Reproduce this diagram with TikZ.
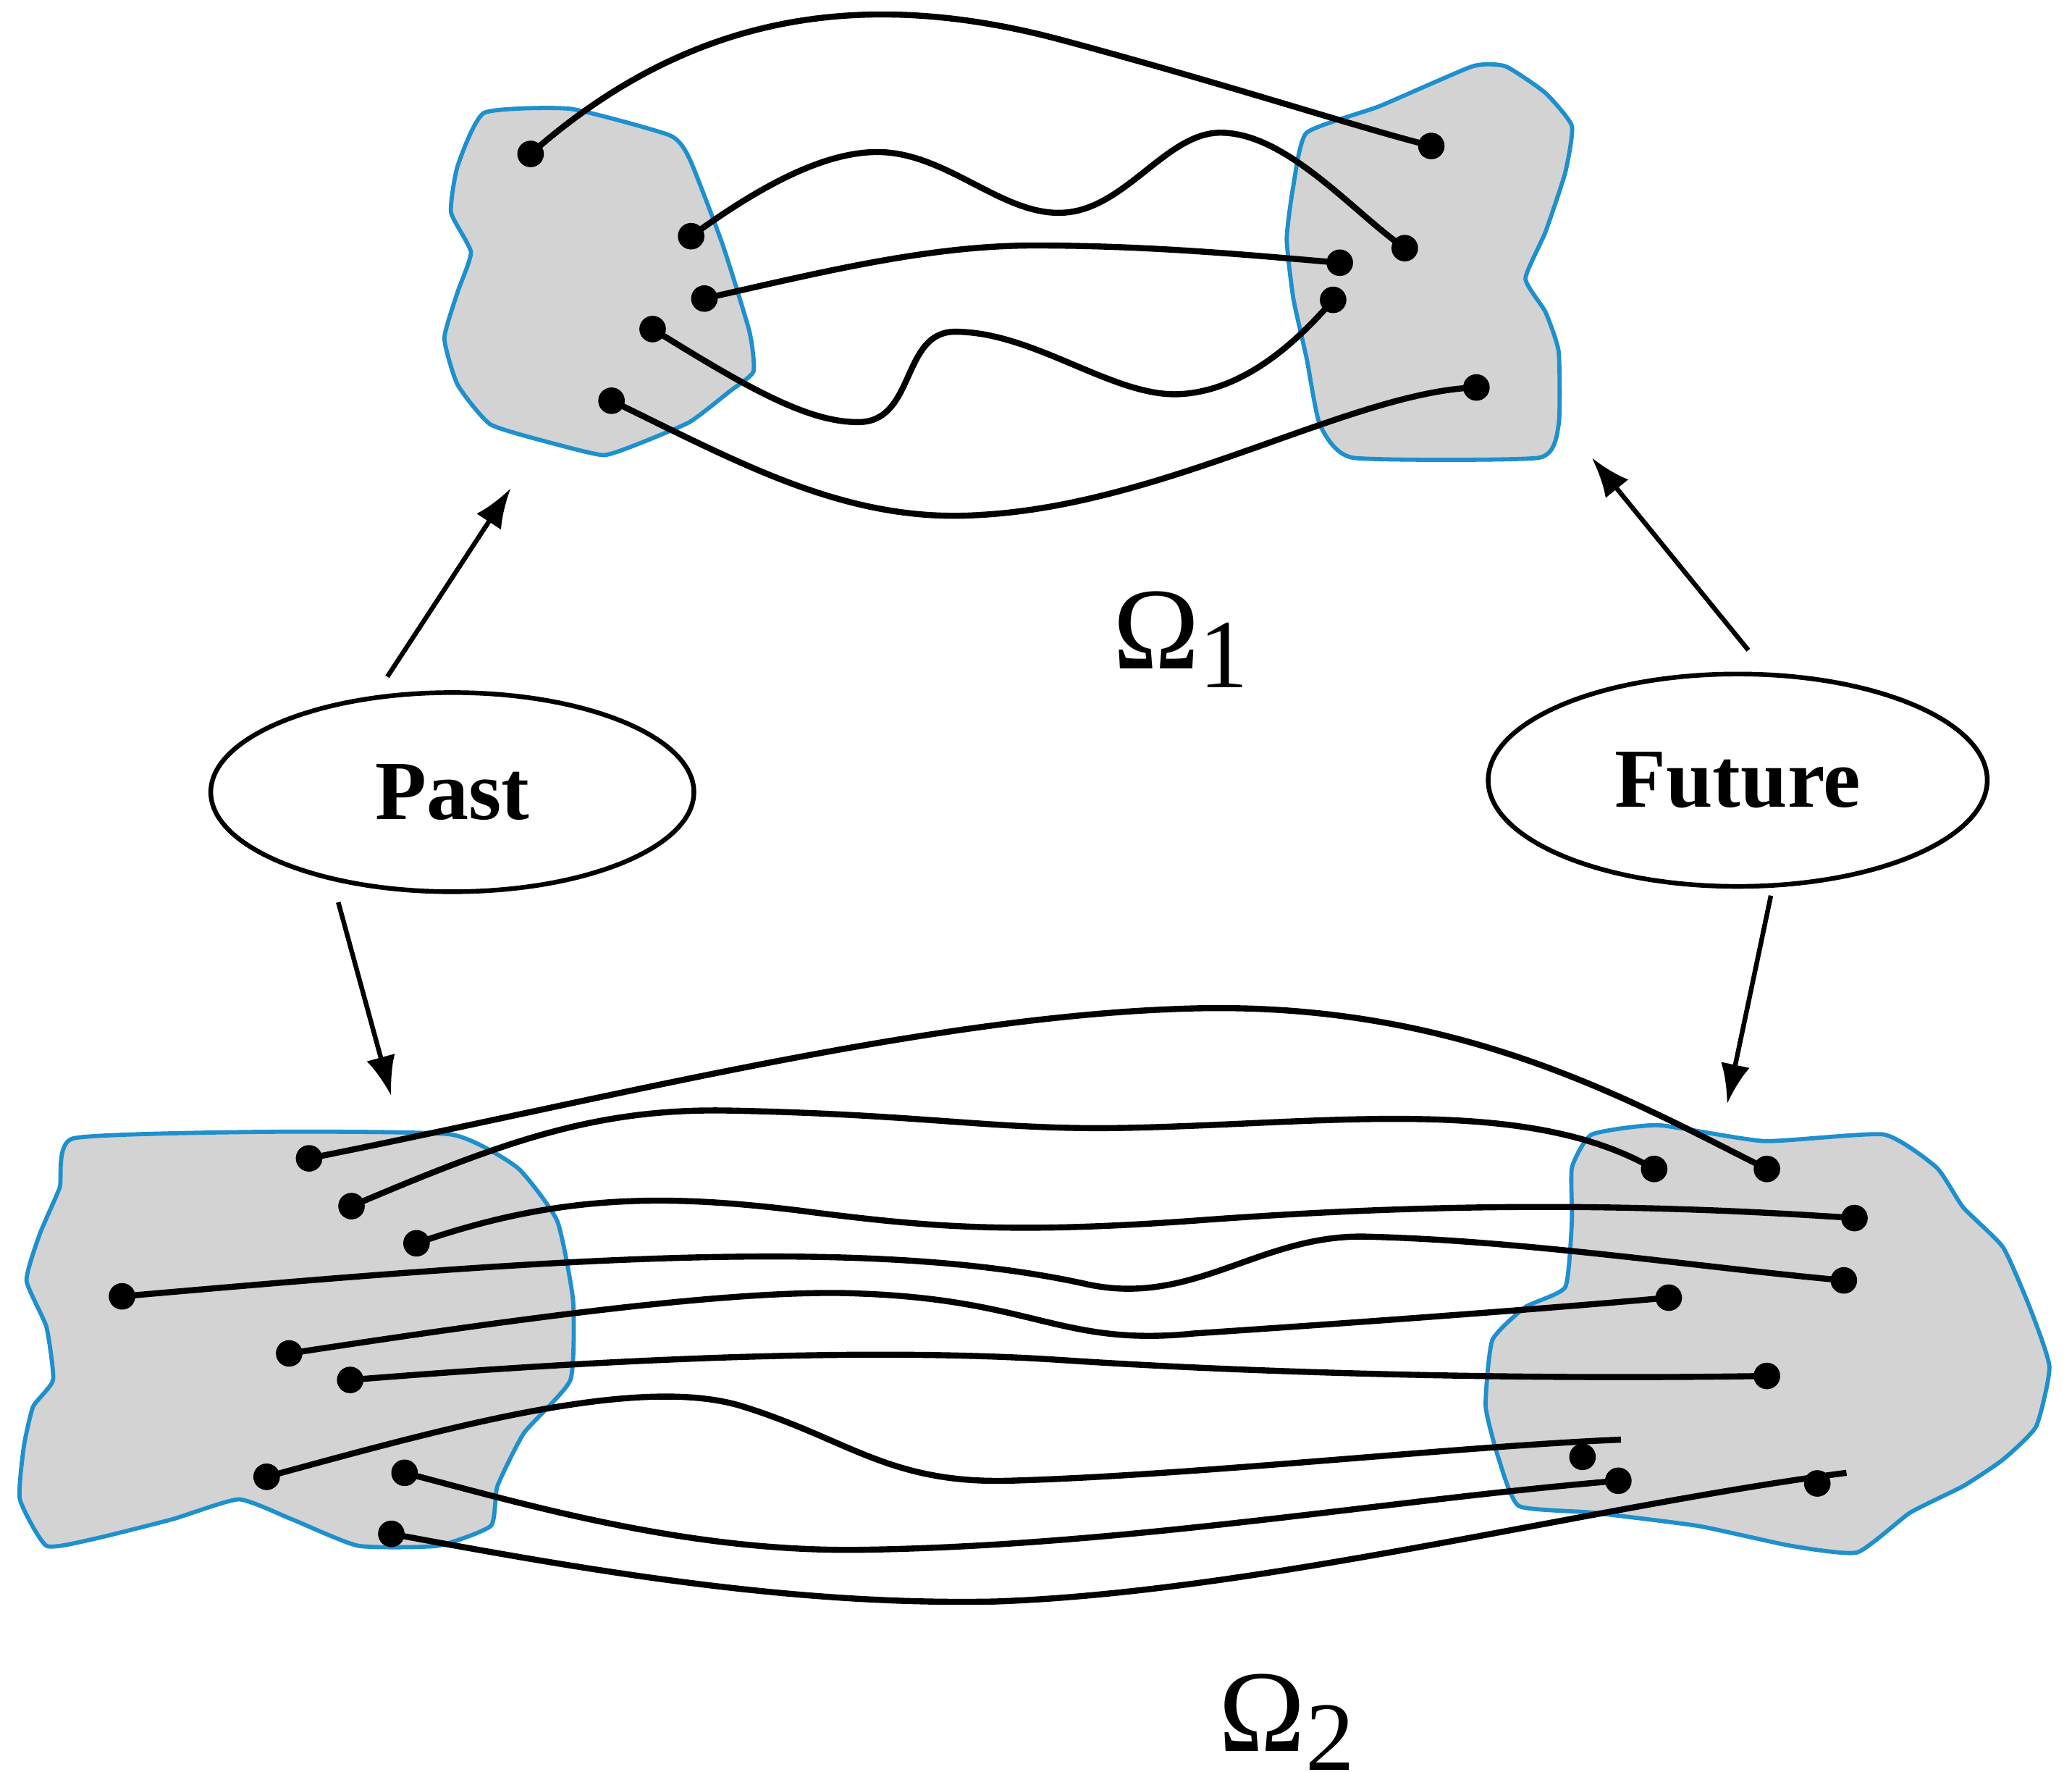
\documentclass[tikz,border=0pt]{standalone}
\usepackage{fontspec}
\setmainfont{Liberation Serif}
\usetikzlibrary{arrows.meta}
\definecolor{blobgray}{RGB}{211,211,211}
\definecolor{blobblue}{RGB}{30,144,205}
\tikzset{
  blob/.style={fill=blobgray, draw=blobblue, line width=0.9pt},
  dot/.style={circle, fill=black, inner sep=0pt, minimum size=0.2cm},
  link/.style={line width=1.3pt},
  pointer/.style={line width=1pt, -{Latex[length=0.3cm,width=0.22cm]}},
  era/.style={ellipse, draw, line width=1pt, font=\bfseries\fontsize{18}{18}\selectfont},
  region/.style={inner sep=0pt, font=\fontsize{25}{25}\selectfont},
}
\newcommand{\omegalabel}[1]{Ω\raisebox{-0.35ex}{\fontsize{21}{21}\selectfont #1}}
\usetikzlibrary{shapes.geometric}
\begin{document}
\begin{tikzpicture}[x=0.01cm,y=-0.01cm]
            \useasboundingbox (0,0) rectangle (1562,1335);
            % regions
            \draw [blob] plot [smooth cycle, tension=0.3] coordinates {(365,85) (430,82) (505,102) (520,120) (545,185) (565,250) (568,280) (550,295) (520,318) (480,335) (455,343) (420,335) (370,320) (345,290) (335,255) (345,220) (355,190) (340,160) (345,125)};
            \draw [blob] plot [smooth cycle, tension=0.3] coordinates {(985,100) (1040,80) (1110,50) (1135,50) (1165,70) (1185,95) (1180,130) (1165,175) (1150,210) (1165,235) (1175,265) (1175,320) (1160,345) (1020,345) (995,320) (985,270) (975,225) (970,180) (975,140)};
            \draw [blob] plot [smooth cycle, tension=0.3] coordinates {(55,858) (200,853) (340,855) (390,880) (420,920) (432,980) (430,1040) (395,1080) (375,1120) (370,1150) (330,1165) (270,1165) (220,1145) (180,1130) (130,1145) (70,1160) (35,1165) (15,1130) (18,1090) (25,1060) (40,1040) (35,1000) (20,965) (30,930) (45,895)};
            \draw [blob] plot [smooth cycle, tension=0.3] coordinates {(1200,855) (1250,848) (1330,860) (1420,855) (1460,880) (1480,910) (1510,940) (1530,985) (1545,1030) (1535,1075) (1510,1100) (1480,1120) (1440,1140) (1400,1170) (1350,1165) (1280,1150) (1200,1140) (1145,1135) (1130,1100) (1120,1060) (1125,1010) (1150,985) (1180,970) (1185,920) (1185,880)};
            % points
            \foreach \n/\p in {a1/{400,116}, a2/{521,178}, a3/{531,225}, a4/{492,248}, a5/{461,302},
                               b1/{1079,110}, b2/{1059,187}, b3/{1010,198}, b4/{1005,226}, b5/{1113,292},
                               l1/{233,873}, l2/{265,909}, l3/{314,937}, l4/{92,977}, l5/{218,1020}, l6/{264,1040}, l7/{201,1113}, l8/{305,1110}, l9/{295,1156},
                               r1/{1247,881}, r2/{1332,881}, r3/{1398,918}, r4/{1390,965}, r5/{1258,978}, r6/{1332,1037}, r7/{1193,1098}, r8/{1220,1116}, r9/{1370,1118}}
                \node [dot] (\n) at (\p) {};
            \coordinate (e7) at (1222,1085);
            \coordinate (e9) at (1392,1110);
            % top links
            \draw [link] (a1.center) .. controls (520,10) and (650,-10) .. (800,30) .. controls (930,65) and (1020,95) .. (b1.center);
            \draw [link] (a2.center) .. controls (560,150) and (620,110) .. (670,115) .. controls (720,120) and (760,165) .. (805,160) .. controls (850,155) and (880,100) .. (920,100) .. controls (970,100) and (1020,160) .. (b2.center);
            \draw [link] (a3.center) .. controls (620,205) and (700,185) .. (780,185) .. controls (870,185) and (950,193) .. (b3.center);
            \draw [link] (a4.center) .. controls (560,290) and (610,320) .. (650,318) .. controls (690,315) and (680,250) .. (720,250) .. controls (780,250) and (840,300) .. (890,297) .. controls (940,294) and (980,255) .. (b4.center);
            \draw [link] (a5.center) .. controls (560,350) and (640,395) .. (740,388) .. controls (880,380) and (1020,295) .. (b5.center);
            % bottom links
            \draw [link] (l1.center) .. controls (450,830) and (700,765) .. (900,760) .. controls (1100,755) and (1230,830) .. (r2.center);
            \draw [link] (l2.center) .. controls (380,860) and (450,835) .. (550,837) .. controls (700,840) and (750,852) .. (850,850) .. controls (1000,847) and (1150,825) .. (r1.center);
            \draw [link] (l3.center) .. controls (420,900) and (500,900) .. (600,912) .. controls (700,925) and (760,930) .. (900,920) .. controls (1100,905) and (1250,908) .. (r3.center);
            \draw [link] (l4.center) .. controls (400,950) and (650,930) .. (820,968) .. controls (900,985) and (950,930) .. (1030,932) .. controls (1150,935) and (1280,955) .. (r4.center);
            \draw [link] (l5.center) .. controls (350,1000) and (550,970) .. (650,975) .. controls (780,980) and (800,1015) .. (900,1005) .. controls (1050,995) and (1180,985) .. (r5.center);
            \draw [link] (l6.center) .. controls (450,1025) and (650,1015) .. (800,1025) .. controls (950,1035) and (1150,1040) .. (r6.center);
            \draw [link] (l7.center) .. controls (330,1078) and (480,1035) .. (560,1060) .. controls (640,1085) and (670,1118) .. (760,1116) .. controls (900,1112) and (1100,1090) .. (e7);
            \draw [link] (l8.center) .. controls (400,1135) and (520,1170) .. (650,1168) .. controls (850,1165) and (1050,1130) .. (r8.center);
            \draw [link] (l9.center) .. controls (450,1185) and (600,1210) .. (750,1207) .. controls (950,1200) and (1200,1135) .. (e9);
            % eras
            \node [era, minimum width=3.64cm, minimum height=1.5cm] (past) at (341,597) {Past};
            \node [era, minimum width=3.76cm, minimum height=1.6cm] (future) at (1310,588) {Future};
            \coordinate (pastup) at (292,510);
            \coordinate (pastdown) at (255,680);
            \coordinate (futup) at (1318,490);
            \coordinate (futdown) at (1335,675);
            \draw [pointer] (pastup) -- (385,368);
            \draw [pointer] (pastdown) -- (295,826);
            \draw [pointer] (futup) -- (1200,345);
            \draw [pointer] (futdown) -- (1302,832);
            \node [region] (omega1) at (890,482) {\omegalabel{1}};
            \node [region] (omega2) at (970,1298) {\omegalabel{2}};
\end{tikzpicture}
\end{document}
